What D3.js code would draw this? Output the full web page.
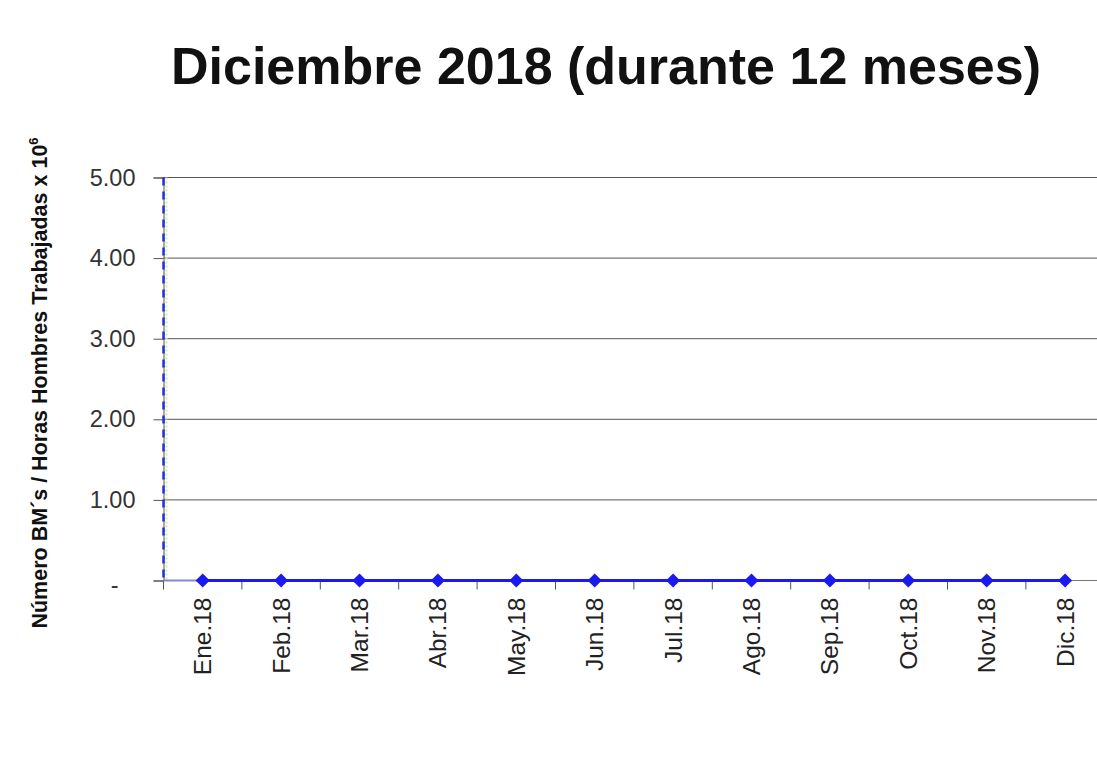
<!DOCTYPE html>
<html><head><meta charset="utf-8">
<script src="https://cdn.jsdelivr.net/npm/d3@7/dist/d3.min.js"></script>
<style>body{margin:0;background:#fff}svg{display:block}</style>
</head><body><svg id="c" width="1097" height="758"></svg>
<script>
const categories = ["Ene.18","Feb.18","Mar.18","Abr.18","May.18","Jun.18","Jul.18","Ago.18","Sep.18","Oct.18","Nov.18","Dic.18"];
const values = [0,0,0,0,0,0,0,0,0,0,0,0];
const yTicks = [0,1,2,3,4,5];
const yTickLabels = ["-","1.00","2.00","3.00","4.00","5.00"];
const title = "Diciembre 2018 (durante 12 meses)";

(function(){
const svg = d3.select("#c");
const FONT = "Liberation Sans, Arial, sans-serif";
const pLeft = 163.5, pBottom = 580.5, pTop = 177.5;
const x = d3.scaleBand().domain(categories).range([pLeft, pLeft + 12*78.4]);
const y = d3.scaleLinear().domain([0,5]).range([pBottom, pTop]);

svg.append("g").selectAll("line").data(yTicks.filter(d=>d>0)).join("line")
  .attr("x1", pLeft).attr("x2", 1097).attr("y1", d=>y(d)).attr("y2", d=>y(d))
  .attr("stroke","#555").attr("stroke-width",1);
svg.append("line").attr("x1",pLeft).attr("x2",1097).attr("y1",pBottom).attr("y2",pBottom)
  .attr("stroke","#777").attr("stroke-width",1.2);

const ya = svg.append("g").attr("transform",`translate(${pLeft},0)`)
  .call(d3.axisLeft(y).tickValues(yTicks).tickFormat((d,i)=>yTickLabels[i]).tickSize(10).tickPadding(18));
ya.select(".domain").attr("stroke","#555");
ya.selectAll(".tick line").attr("stroke","#555");
ya.selectAll("text").attr("font-family",FONT).attr("font-size",23.5).attr("fill","#333");
ya.selectAll(".tick").filter(d=>d===0).select("text").attr("dx",-17).attr("dy","0.5em");

svg.append("line").attr("x1",166.5).attr("x2",166.5).attr("y1",pTop).attr("y2",pBottom)
  .attr("stroke","#d8e8a0").attr("stroke-width",2).attr("stroke-dasharray","2,2");
svg.append("line").attr("x1",pLeft).attr("x2",pLeft).attr("y1",pTop).attr("y2",pBottom)
  .attr("stroke","#2233dd").attr("stroke-width",2.5).attr("stroke-dasharray","8,6");

const bounds = categories.map(c=>x(c)).concat([x(categories[11])+x.bandwidth()]);
svg.append("g").selectAll("line").data(bounds).join("line")
  .attr("x1",d=>d).attr("x2",d=>d).attr("y1",pBottom).attr("y2",pBottom+9)
  .attr("stroke","#555");

svg.append("g").selectAll("text").data(categories).join("text")
  .attr("transform",c=>`translate(${x(c)+x.bandwidth()/2+8.5},${pBottom+17}) rotate(-90)`)
  .attr("text-anchor","end").attr("font-family",FONT)
  .attr("font-size",24.5).attr("fill","#222").text(c=>c);

const pts = categories.map((c,i)=>[x(c)+x.bandwidth()/2, y(values[i])]);
svg.append("line").attr("x1",pLeft).attr("x2",pts[0][0]).attr("y1",pBottom).attr("y2",pBottom)
  .attr("stroke","#8888cc").attr("stroke-width",2);
svg.append("path").attr("d", d3.line()(pts)).attr("fill","none").attr("stroke","#1a1aee").attr("stroke-width",3);
svg.append("g").selectAll("path").data(pts).join("path")
  .attr("transform",d=>`translate(${d[0]},${d[1]}) rotate(45)`)
  .attr("d", d3.symbol(d3.symbolSquare, 100)())
  .attr("fill","#1a1aee");

svg.append("text").attr("x",606).attr("y",84).attr("text-anchor","middle")
  .attr("font-family",FONT).attr("font-weight","bold")
  .attr("font-size",52).attr("fill","#111").text(title);

const yl = svg.append("text").attr("transform","translate(47,383) rotate(-90)")
  .attr("text-anchor","middle").attr("font-family",FONT)
  .attr("font-weight","bold").attr("font-size",21.5).attr("fill","#111");
yl.append("tspan").text("Número BM´s / Horas Hombres Trabajadas x 10");
yl.append("tspan").attr("font-size",13).attr("dy",-9).text("6");
})();
</script></body></html>
